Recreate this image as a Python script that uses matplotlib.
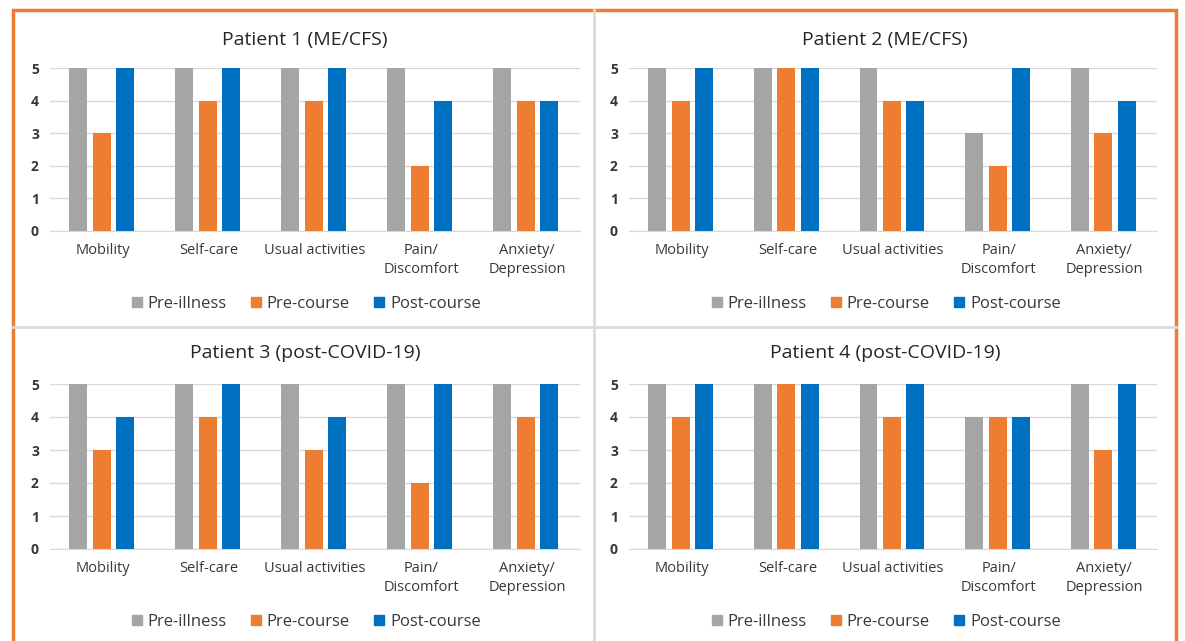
import numpy as np
import matplotlib.pyplot as plt
from matplotlib.patches import Rectangle
from matplotlib.lines import Line2D

plt.rcParams['font.family'] = ['Open Sans', 'DejaVu Sans']

# EQ-5D style scores per patient
categories = ['Mobility', 'Self-care', 'Usual activities', 'Pain/\nDiscomfort', 'Anxiety/\nDepression']
series = ['Pre-illness', 'Pre-course', 'Post-course']
colors = ['#A5A5A5', '#ED7D31', '#0070C0']

titles = ['Patient 1 (ME/CFS)', 'Patient 2 (ME/CFS)',
          'Patient 3 (post-COVID-19)', 'Patient 4 (post-COVID-19)']

p1_pre_illness = [5, 5, 5, 5, 5]
p1_pre_course = [3, 4, 4, 2, 4]
p1_post_course = [5, 5, 5, 4, 4]

p2_pre_illness = [5, 5, 5, 3, 5]
p2_pre_course = [4, 5, 4, 2, 3]
p2_post_course = [5, 5, 4, 5, 4]

p3_pre_illness = [5, 5, 5, 5, 5]
p3_pre_course = [3, 4, 3, 2, 4]
p3_post_course = [4, 5, 4, 5, 5]

p4_pre_illness = [5, 5, 5, 4, 5]
p4_pre_course = [4, 5, 4, 4, 3]
p4_post_course = [5, 5, 5, 4, 5]

patients = [
    (p1_pre_illness, p1_pre_course, p1_post_course),
    (p2_pre_illness, p2_pre_course, p2_post_course),
    (p3_pre_illness, p3_pre_course, p3_post_course),
    (p4_pre_illness, p4_pre_course, p4_post_course),
]

W, H = 1185, 641
fig = plt.figure(figsize=(W / 100, H / 100), dpi=100)

def fx(px):
    return px / W

def fy(py):
    return 1 - py / H

# panel layout in pixels: (axes left, axes right, axes top, axes bottom, title y, legend y, panel centre x)
layout = [
    (50, 580, 68, 231, 40, 304, 305),
    (629, 1157, 68, 231, 40, 304, 885),
    (50, 580, 384, 549, 353, 622, 305),
    (629, 1157, 384, 549, 353, 622, 885),
]

x = np.arange(len(categories))
offset = 0.222
width = 0.17
text_col = '#383838'

for (vals, title, (l, r, t, b, ty, ly, cx)) in zip(patients, titles, layout):
    ax = fig.add_axes([fx(l), fy(b), fx(r - l), (b - t) / H])
    for i, (v, c) in enumerate(zip(vals, colors)):
        ax.bar(x + (i - 1) * offset - 0.01, v, width, color=c, zorder=3, label=series[i])
    ax.set_xlim(-0.5, len(categories) - 0.5)
    ax.set_ylim(0, 5)
    ax.set_yticks(range(6))
    ax.yaxis.grid(True, color='#D9D9D9', linewidth=1)
    ax.set_axisbelow(True)
    for s in ['top', 'right', 'left']:
        ax.spines[s].set_visible(False)
    ax.spines['bottom'].set_color('#D9D9D9')
    ax.tick_params(length=0)
    ax.tick_params(axis='y', labelsize=10, labelcolor=text_col, pad=8)
    ax.set_xticks(x)
    ax.set_xticklabels(categories, fontsize=10.5, color=text_col, linespacing=1.35)
    ax.tick_params(axis='x', pad=9)
    for lab in ax.get_yticklabels():
        lab.set_fontweight('bold')
    fig.text(fx(cx), fy(ty), title, ha='center', va='center', fontsize=14, color='#262626')
    handles = [Line2D([], [], marker='s', linestyle='', markersize=6.5, color=c) for c in colors]
    fig.legend(handles, series, loc='center', bbox_to_anchor=(fx(cx), fy(ly)), ncol=3,
               frameon=False, fontsize=12, labelcolor=text_col, handletextpad=0.2,
               columnspacing=1.3, handlelength=0.9)

# panel dividers and outer frame
fig.add_artist(Line2D([fx(594), fx(594)], [fy(10), 0], color='#DADADA', linewidth=2))
fig.add_artist(Line2D([fx(13), fx(1176)], [fy(327), fy(327)], color='#DADADA', linewidth=2))
fig.add_artist(Rectangle((fx(13), -0.05), fx(1176 - 13), fy(10) + 0.05, fill=False,
                         edgecolor='#ED7D31', linewidth=2.5))

fig.savefig('out.png', dpi=100)
